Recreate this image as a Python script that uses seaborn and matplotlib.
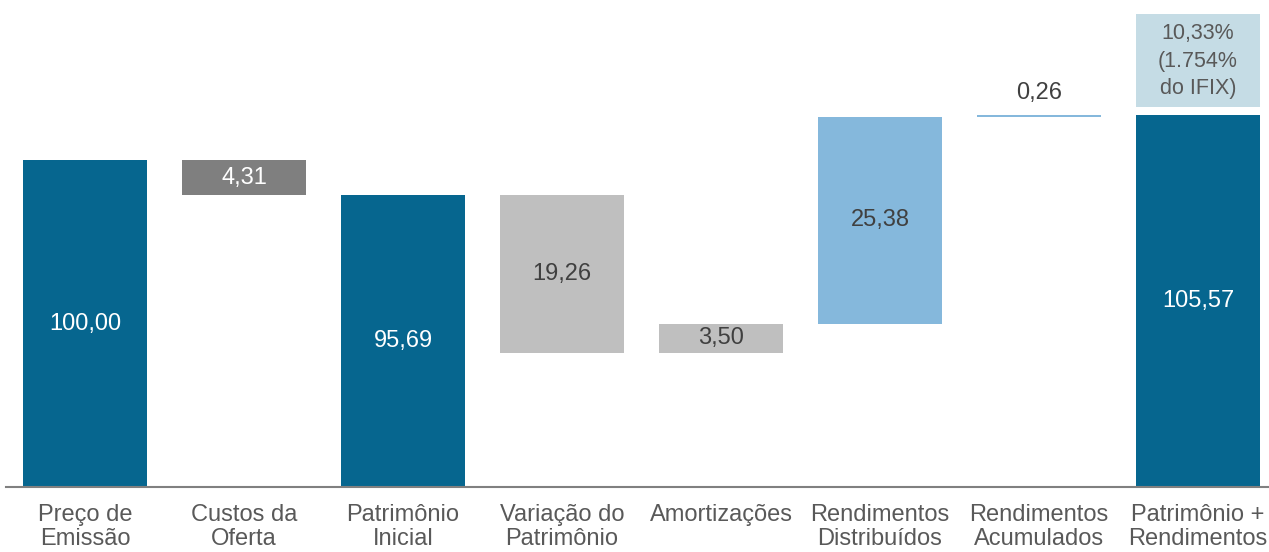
import numpy as np
import pandas as pd
import matplotlib
matplotlib.use("Agg")
import matplotlib.pyplot as plt
import seaborn as sns

# Dados do gráfico (waterfall)
categorias = ["Preço de\nEmissão", "Custos da\nOferta", "Patrimônio\nInicial",
              "Variação do\nPatrimônio", "Amortizações", "Rendimentos\nDistribuídos",
              "Rendimentos\nAcumulados", "Patrimônio +\nRendimentos"]
valores = [100.00, -4.31, 95.69, -19.26, 3.50, 25.38, 0.26, 105.57]
total = [True, False, True, False, False, False, False, True]
cores = ["#06668f", "#7f7f7f", "#06668f", "#bfbfbf", "#bfbfbf", "#85b8dc", "#85b8dc", "#06668f"]
cor_rotulo = ["white", "white", "white", "#404040", "#404040", "#404040", "#404040", "white"]
nota_final = "10,33%\n(1.754%\ndo IFIX)"

# Base e altura de cada barra
base, altura = [], []
acum = 0.0
for v, t in zip(valores, total):
    if t:
        base.append(0.0)
        altura.append(v)
        acum = v
    else:
        base.append(min(acum, acum + v))
        altura.append(abs(v))
        acum = acum + v

df = pd.DataFrame({"cat": categorias, "altura": altura, "base": base})

sns.set_style("white")
plt.rcParams["font.family"] = ["Liberation Sans", "DejaVu Sans"]

fig = plt.figure(figsize=(12.69, 5.52), dpi=100)
ax = fig.add_axes([6 / 1269, 65 / 552, 1263 / 1269, 487 / 552])

sns.barplot(data=df, x="cat", y="altura", bottom=df["base"].values, color="#06668f",
            width=0.78, ax=ax, linewidth=0)
for p, c in zip(ax.patches, cores):
    p.set_facecolor(c)
    p.set_edgecolor(c)

ymin, ymax = 60, 119.6
ax.set_ylim(ymin, ymax)
ax.set_xlim(-0.497, 7.447)

# Rótulos de valor
for i, v in enumerate(valores):
    txt = f"{abs(v):.2f}".replace(".", ",")
    b = max(base[i], ymin)
    topo = base[i] + altura[i]
    if altura[i] < 1:
        ax.annotate(txt, (i, topo), xytext=(0, 8), textcoords="offset points",
                    ha="center", va="bottom", fontsize=17, color="#404040")
    else:
        ax.text(i, (b + topo) / 2, txt, ha="center", va="center",
                fontsize=17, color=cor_rotulo[i])

# Caixa com a rentabilidade
ax.bar(7, 11.4, bottom=106.5, width=0.78, color="#c5dce5", linewidth=0)
ax.text(7, 112.1, nota_final, ha="center", va="center", fontsize=15.5,
        color="#595959", linespacing=1.4)

ax.set_xlabel("")
ax.set_ylabel("")
ax.set_yticks([])
ax.tick_params(axis="x", length=0, pad=12, labelsize=17, labelcolor="#595959")
for lbl in ax.get_xticklabels():
    lbl.set_linespacing(1.12)
for s in ["top", "left", "right"]:
    ax.spines[s].set_visible(False)
ax.spines["bottom"].set_color("#808080")
ax.spines["bottom"].set_linewidth(1.5)

fig.savefig("out.png", dpi=100)
